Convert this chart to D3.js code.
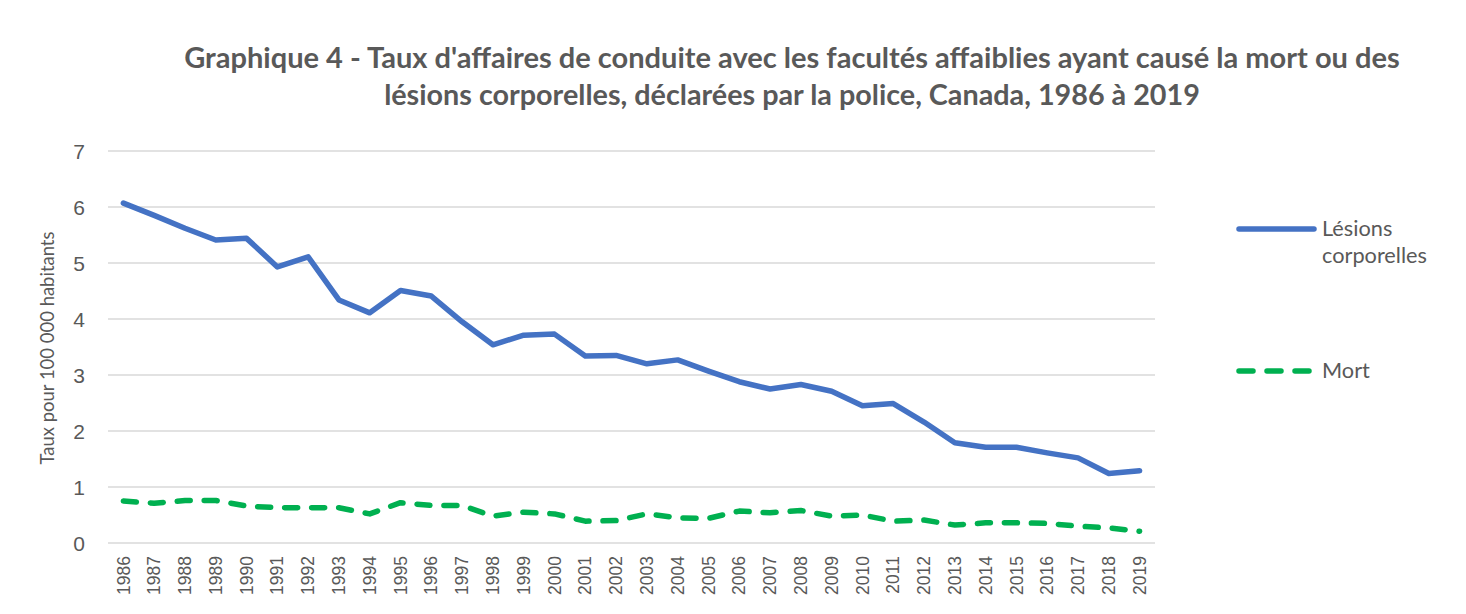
<!DOCTYPE html>
<html lang="fr">
<head>
<meta charset="UTF-8">
<title>Graphique 4</title>
<script src="https://cdn.jsdelivr.net/npm/d3@7"></script>
<style>
    html, body { margin: 0; padding: 0; background: #fff; }
    svg { display: block; font-family: Lato, "Open Sans", sans-serif; }
</style>
</head>
<body>
<div id="chart"></div>
<script>
    // data
    let years = d3.range(1986, 2020);
    let lesions = [6.07, 5.85, 5.62, 5.41, 5.44, 4.93, 5.11, 4.34, 4.11, 4.51, 4.41, 3.95, 3.54, 3.71, 3.73,
        3.34, 3.35, 3.20, 3.27, 3.07, 2.88, 2.75, 2.83, 2.71, 2.45, 2.49, 2.16, 1.79, 1.71, 1.71, 1.61, 1.52, 1.24, 1.29];
    let mort = [0.75, 0.71, 0.76, 0.76, 0.66, 0.63, 0.63, 0.63, 0.52, 0.72, 0.67, 0.67, 0.48, 0.55, 0.52,
        0.39, 0.40, 0.52, 0.45, 0.44, 0.57, 0.54, 0.58, 0.48, 0.50, 0.39, 0.41, 0.32, 0.36, 0.36, 0.35, 0.30, 0.27, 0.21];
    let yTicks = [0, 1, 2, 3, 4, 5, 6, 7];

    let W = 1466, H = 614;
    let grey = "#595959";
    let svg = d3.select("#chart").append("svg").attr("width", W).attr("height", H);

    let x = d3.scaleBand().domain(years).range([108, 1155]).padding(0);
    let y = d3.scaleLinear().domain([0, 7]).range([543, 151]);
    let cx = function (d) { return x(d) + x.bandwidth() / 2; };

    // shrink/grow a text node so it takes the width it has in the original
    function fit(t, base, w) {
        let len = t.node().getComputedTextLength();
        t.style("font-size", (base * w / len) + "px");
    }

    let titles = [
        {t: "Graphique 4 - Taux d'affaires de conduite avec les facultés affaiblies ayant causé la mort ou des", y: 68, w: 1216},
        {t: "lésions corporelles, déclarées par la police, Canada, 1986 à 2019", y: 105, w: 816}
    ];
    titles.forEach(function (o) {
        let t = svg.append("text")
            .attr("x", 792).attr("y", o.y)
            .attr("text-anchor", "middle")
            .style("font-size", "24px").style("font-weight", "700")
            .attr("fill", grey).text(o.t);
        fit(t, 24, o.w);
    });

    // grid
    svg.append("g").selectAll("line").data(yTicks).enter().append("line")
        .attr("x1", 108).attr("x2", 1155)
        .attr("y1", function (d) { return y(d); }).attr("y2", function (d) { return y(d); })
        .attr("stroke", "#d9d9d9").attr("stroke-width", 1.5);

    // y axis
    let ya = svg.append("g").attr("transform", "translate(85,0)")
        .call(d3.axisLeft(y).tickValues(yTicks).tickFormat(d3.format("d")).tickSize(0).tickPadding(0));
    ya.select(".domain").remove();
    ya.selectAll("text").attr("fill", grey).style("font-size", "21px").attr("font-family", null)
        .attr("dy", "0.35em");

    // x axis
    let xa = svg.append("g").attr("transform", "translate(0,556)")
        .call(d3.axisBottom(x).tickSize(0).tickPadding(0));
    xa.select(".domain").remove();
    xa.selectAll("text")
        .attr("fill", grey).style("font-size", "17.5px")
        .attr("font-family", "'Liberation Sans', Arial, sans-serif")
        .attr("transform", "rotate(-90)")
        .attr("text-anchor", "end")
        .attr("x", 0).attr("y", 0).attr("dy", "0.35em");

    let yt = svg.append("text")
        .attr("transform", "translate(54,348) rotate(-90)")
        .attr("text-anchor", "middle")
        .attr("fill", grey).style("font-size", "16px")
        .text("Taux pour 100 000 habitants");
    fit(yt, 16, 233);

    // lines
    let line = d3.line().x(function (d) { return cx(d.year); }).y(function (d) { return y(d.v); });
    let series = [
        {name: "Lésions", vals: lesions, color: "#4472c4", dash: null},
        {name: "Mort", vals: mort, color: "#00b050", dash: "13,14"}
    ];
    series.forEach(function (s) {
        svg.append("path")
            .datum(years.map(function (yr, i) { return {year: yr, v: s.vals[i]}; }))
            .attr("d", line)
            .attr("fill", "none")
            .attr("stroke", s.color).attr("stroke-width", 5.5)
            .attr("stroke-linecap", "round").attr("stroke-linejoin", "round")
            .attr("stroke-dasharray", s.dash);
    });

    // legend
    let lg = svg.append("g");
    lg.append("line").attr("x1", 1239).attr("x2", 1314).attr("y1", 229).attr("y2", 229)
        .attr("stroke", "#4472c4").attr("stroke-width", 5.5).attr("stroke-linecap", "round");
    lg.append("text").attr("x", 1322).attr("y", 236).attr("fill", grey).style("font-size", "21px").text("Lésions");
    let cp = lg.append("text").attr("x", 1322).attr("y", 263).attr("fill", grey).style("font-size", "21px").text("corporelles");
    fit(cp, 21, 105);
    lg.append("line").attr("x1", 1239).attr("x2", 1314).attr("y1", 371).attr("y2", 371)
        .attr("stroke", "#00b050").attr("stroke-width", 5.5).attr("stroke-linecap", "round")
        .attr("stroke-dasharray", "14,14");
    lg.append("text").attr("x", 1322).attr("y", 378).attr("fill", grey).style("font-size", cp.style("font-size")).text("Mort");
    lg.selectAll("text").filter(function () { return d3.select(this).text() === "Lésions"; })
        .style("font-size", cp.style("font-size"));
</script>
</body>
</html>
